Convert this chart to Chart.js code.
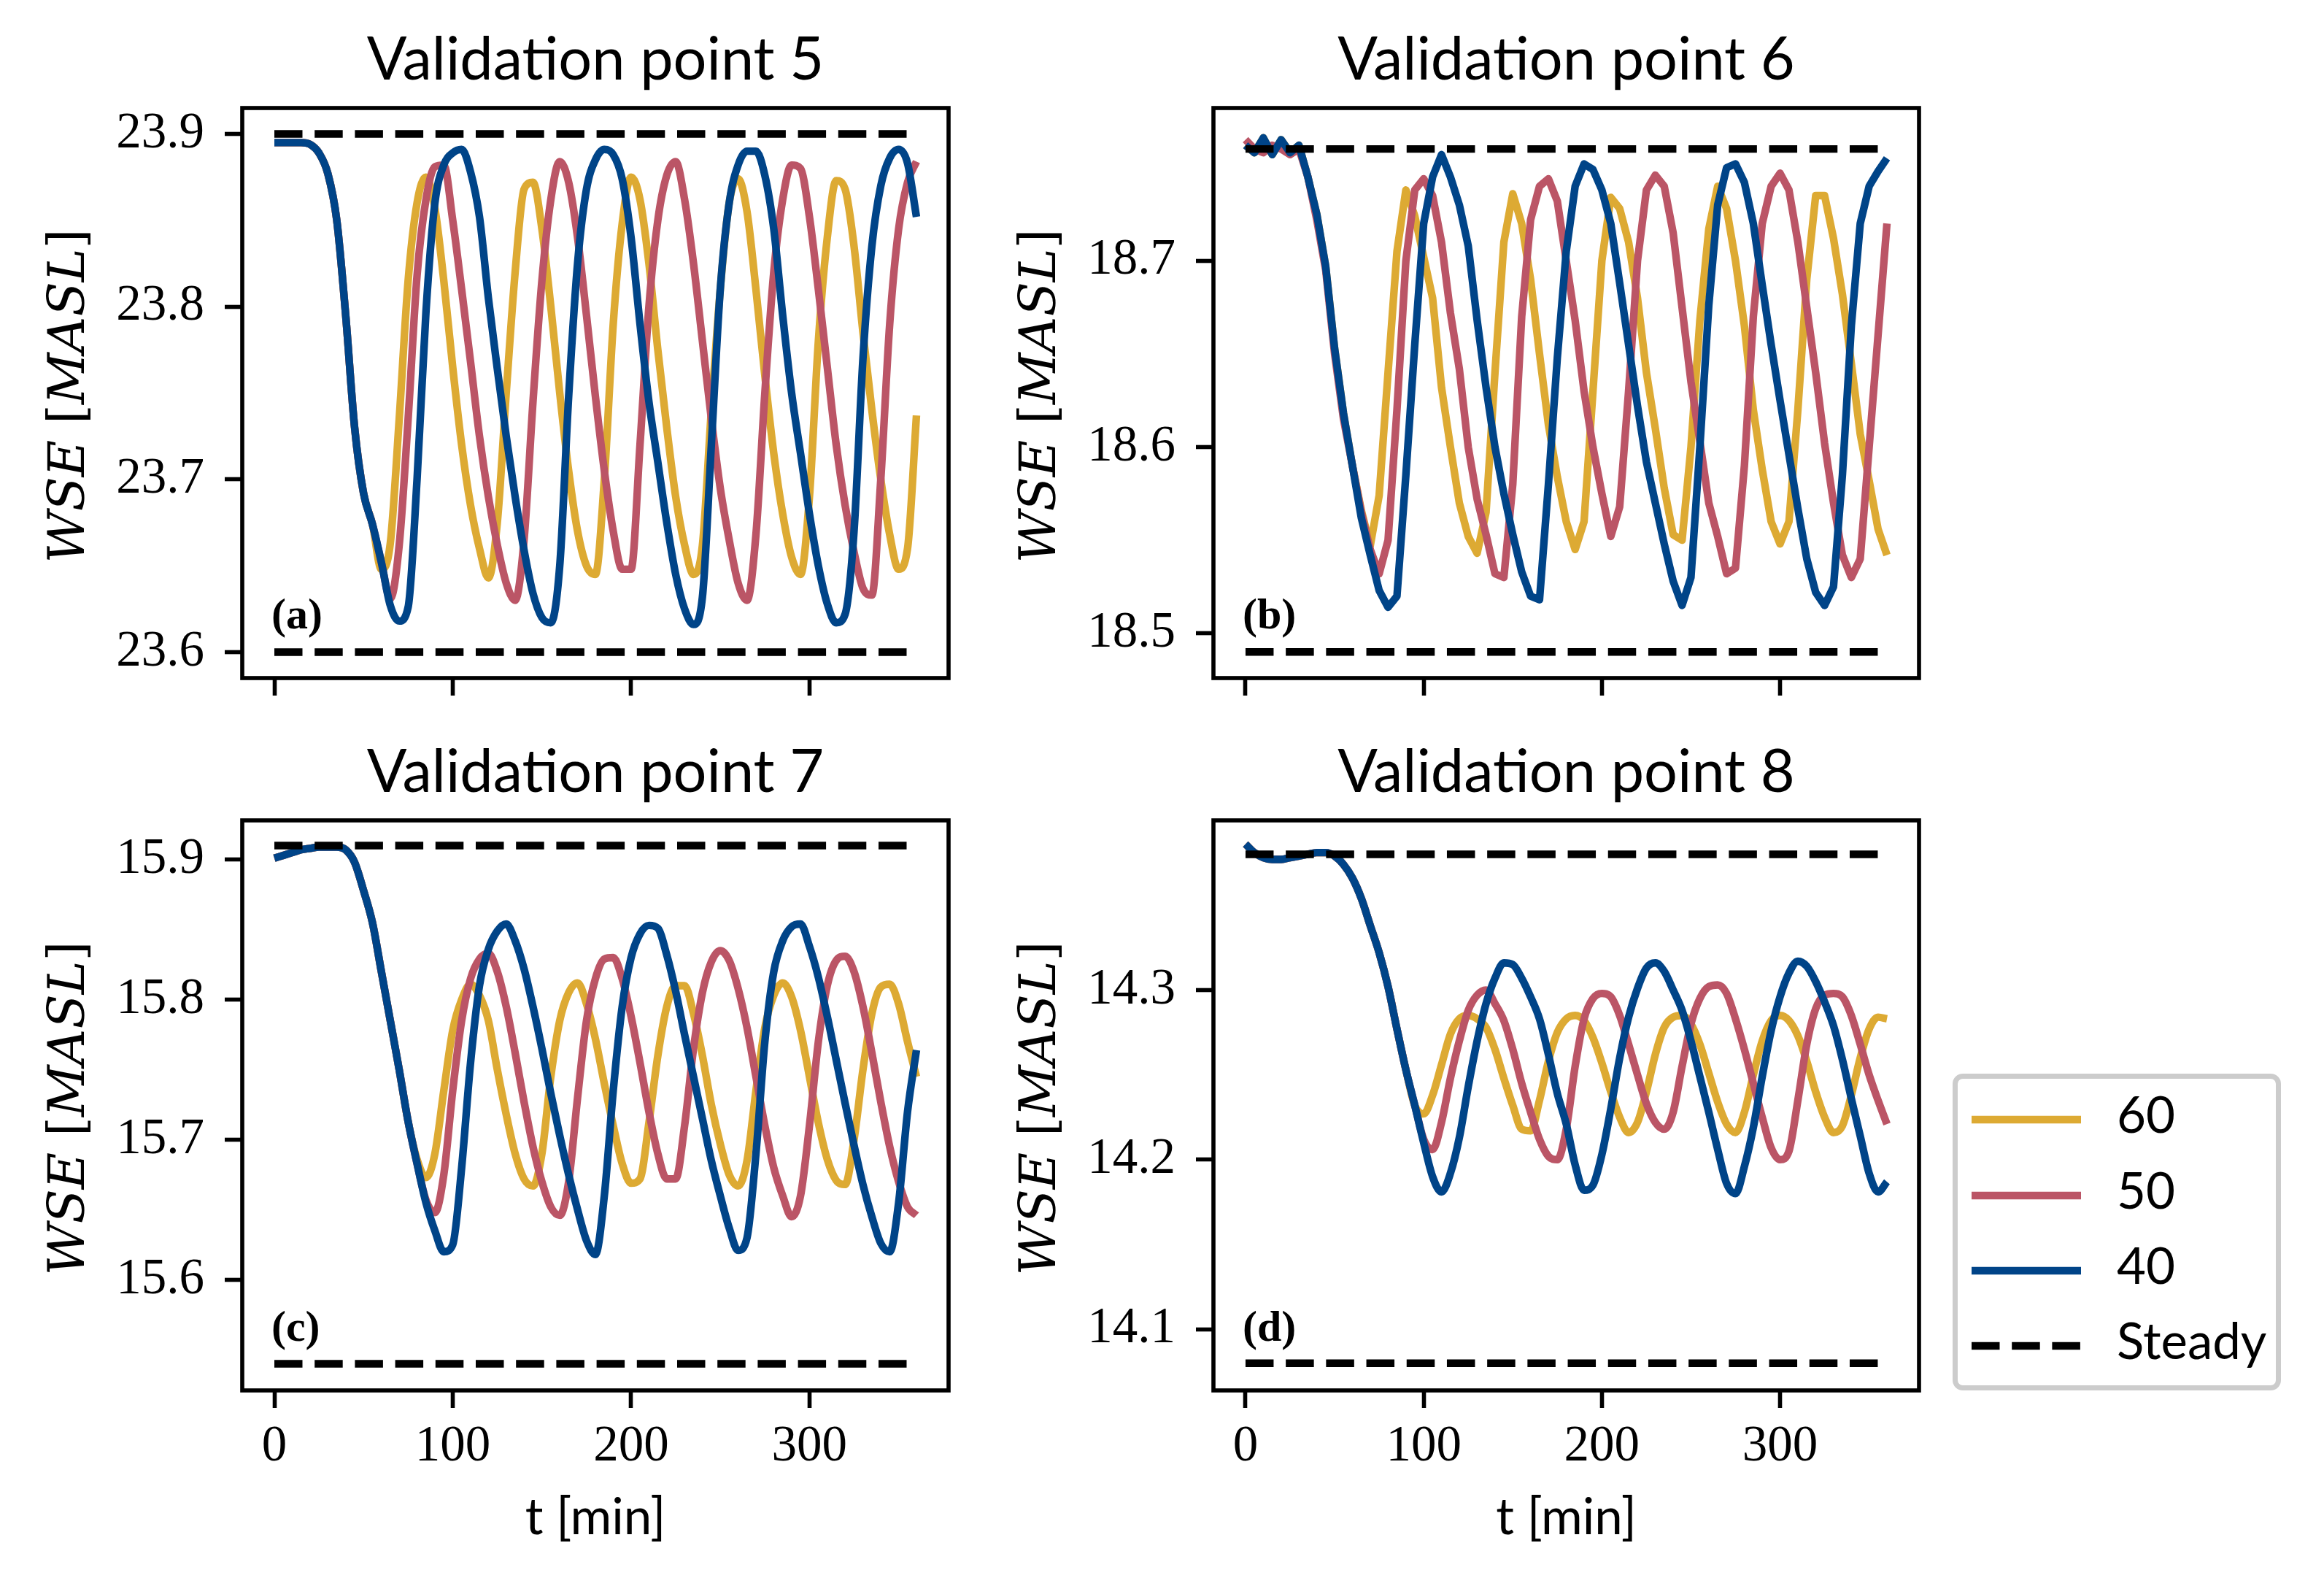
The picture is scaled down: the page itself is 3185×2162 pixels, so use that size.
<!DOCTYPE html>
<html>
<head>
<meta charset="utf-8">
<script src="https://cdn.jsdelivr.net/npm/chart.js@4.4.0/dist/chart.umd.min.js"></script>
<style>
  body { margin: 0; background: #fff; width: 3185px; height: 2162px; position: relative; overflow: hidden; }
  canvas { position: absolute; }
  #legend {
    position: absolute; left: 2676px; top: 1471px; width: 450px; height: 434px;
    box-sizing: border-box; border: 7px solid #cccccc; border-radius: 14px; background: #fff;
  }
  .item { position: absolute; left: 0; height: 100px; width: 436px; }
  .item svg { position: absolute; left: 19px; top: 0; }
  .item span { position: absolute; left: 218px; top: 0; height: 100px; line-height: 100px; font: 69px Lato, sans-serif; color: #000; }
</style>
</head>
<body>
<canvas id="pa" style="left:0px;top:0px"></canvas>
<canvas id="pb" style="left:1331px;top:0px"></canvas>
<canvas id="pc" style="left:0px;top:976px"></canvas>
<canvas id="pd" style="left:1331px;top:976px"></canvas>
<div id="legend"></div>
<script>
// time axis [min]
const T = [0, 5, 10, 15, 20, 25, 30, 35, 40, 45, 50, 55, 60, 65, 70, 75, 80, 85, 90, 95,
  100, 105, 110, 115, 120, 125, 130, 135, 140, 145, 150, 155, 160, 165, 170, 175, 180, 185, 190, 195,
  200, 205, 210, 215, 220, 225, 230, 235, 240, 245, 250, 255, 260, 265, 270, 275, 280, 285, 290, 295,
  300, 305, 310, 315, 320, 325, 330, 335, 340, 345, 350, 355, 360];

// Validation point 5 (the three runs coincide until they split)
const a40 = [23.895, 23.895, 23.895, 23.895, 23.894, 23.889, 23.877, 23.850, 23.795, 23.730, 23.692, 23.674, 23.652, 23.627, 23.618, 23.626, 23.700, 23.797, 23.860, 23.882,
  23.889, 23.891, 23.878, 23.852, 23.805, 23.764, 23.725, 23.690, 23.659, 23.634, 23.620, 23.617, 23.650, 23.748, 23.825, 23.868, 23.885, 23.891, 23.888, 23.874,
  23.840, 23.790, 23.745, 23.710, 23.675, 23.645, 23.625, 23.616, 23.632, 23.720, 23.810, 23.860, 23.882, 23.890, 23.890, 23.876, 23.845, 23.795, 23.750, 23.715,
  23.680, 23.650, 23.628, 23.617, 23.622, 23.670, 23.770, 23.835, 23.870, 23.886, 23.891, 23.883, 23.852];
const a50 = [23.895, 23.895, 23.895, 23.895, 23.894, 23.889, 23.877, 23.850, 23.795, 23.730, 23.692, 23.674, 23.652, 23.631, 23.662, 23.735, 23.818, 23.862, 23.881, 23.882,
  23.850, 23.810, 23.768, 23.725, 23.690, 23.662, 23.640, 23.630, 23.665, 23.745, 23.815, 23.862, 23.884, 23.872, 23.840, 23.795, 23.748, 23.705, 23.670, 23.648,
  23.648, 23.720, 23.800, 23.850, 23.876, 23.884, 23.862, 23.825, 23.780, 23.735, 23.695, 23.665, 23.640, 23.630, 23.668, 23.750, 23.820, 23.862, 23.882, 23.880,
  23.852, 23.810, 23.765, 23.720, 23.685, 23.658, 23.637, 23.633, 23.700, 23.790, 23.845, 23.872, 23.884];
const a60 = [23.895, 23.895, 23.895, 23.895, 23.894, 23.889, 23.877, 23.850, 23.795, 23.730, 23.692, 23.674, 23.648, 23.663, 23.735, 23.815, 23.860, 23.875, 23.857, 23.815,
  23.765, 23.720, 23.685, 23.660, 23.643, 23.675, 23.750, 23.820, 23.868, 23.872, 23.845, 23.800, 23.750, 23.705, 23.670, 23.650, 23.645, 23.700, 23.790, 23.848,
  23.875, 23.862, 23.825, 23.775, 23.730, 23.690, 23.662, 23.645, 23.662, 23.740, 23.810, 23.860, 23.874, 23.855, 23.810, 23.760, 23.715, 23.680, 23.655, 23.645,
  23.690, 23.780, 23.840, 23.873, 23.868, 23.835, 23.785, 23.740, 23.700, 23.668, 23.648, 23.660, 23.737];

// Validation point 6
const b40 = [18.762, 18.758, 18.766, 18.757, 18.765, 18.758, 18.762, 18.745, 18.725, 18.697, 18.653, 18.618, 18.590, 18.562, 18.542, 18.523, 18.514, 18.520, 18.585, 18.655,
  18.720, 18.745, 18.757, 18.745, 18.730, 18.708, 18.668, 18.632, 18.600, 18.575, 18.553, 18.533, 18.520, 18.518, 18.580, 18.648, 18.705, 18.740, 18.752, 18.749,
  18.738, 18.720, 18.688, 18.655, 18.622, 18.592, 18.570, 18.548, 18.528, 18.515, 18.530, 18.600, 18.676, 18.730, 18.750, 18.752, 18.742, 18.720, 18.687, 18.655,
  18.625, 18.596, 18.567, 18.540, 18.522, 18.515, 18.525, 18.585, 18.665, 18.720, 18.740, 18.748, 18.755];
const b50 = [18.765, 18.760, 18.758, 18.762, 18.760, 18.757, 18.760, 18.745, 18.722, 18.695, 18.650, 18.615, 18.590, 18.565, 18.545, 18.532, 18.550, 18.620, 18.700, 18.738,
  18.744, 18.735, 18.710, 18.672, 18.642, 18.600, 18.572, 18.553, 18.532, 18.530, 18.580, 18.670, 18.722, 18.740, 18.744, 18.732, 18.700, 18.668, 18.630, 18.600,
  18.575, 18.552, 18.568, 18.630, 18.700, 18.738, 18.746, 18.740, 18.715, 18.675, 18.635, 18.603, 18.570, 18.552, 18.532, 18.535, 18.590, 18.670, 18.720, 18.740,
  18.747, 18.738, 18.710, 18.675, 18.640, 18.602, 18.570, 18.542, 18.530, 18.540, 18.600, 18.660, 18.720];
const b60 = [18.762, 18.758, 18.766, 18.757, 18.765, 18.758, 18.762, 18.745, 18.725, 18.697, 18.653, 18.618, 18.590, 18.566, 18.547, 18.574, 18.640, 18.705, 18.738, 18.724,
  18.702, 18.680, 18.632, 18.600, 18.570, 18.552, 18.543, 18.565, 18.640, 18.710, 18.736, 18.720, 18.690, 18.650, 18.612, 18.584, 18.560, 18.545, 18.560, 18.630,
  18.700, 18.734, 18.728, 18.710, 18.680, 18.640, 18.610, 18.578, 18.553, 18.550, 18.600, 18.668, 18.717, 18.740, 18.728, 18.700, 18.665, 18.620, 18.588, 18.560,
  18.548, 18.560, 18.620, 18.690, 18.735, 18.735, 18.712, 18.682, 18.645, 18.607, 18.582, 18.556, 18.542];

// Validation point 7
const c40 = [15.901, 15.903, 15.905, 15.907, 15.908, 15.909, 15.909, 15.909, 15.907, 15.898, 15.878, 15.855, 15.820, 15.785, 15.750, 15.713, 15.683, 15.655, 15.635, 15.620,
  15.625, 15.680, 15.755, 15.810, 15.836, 15.849, 15.854, 15.842, 15.822, 15.795, 15.765, 15.733, 15.703, 15.675, 15.650, 15.628, 15.618, 15.660, 15.735, 15.795,
  15.830, 15.847, 15.853, 15.851, 15.832, 15.806, 15.775, 15.745, 15.715, 15.685, 15.660, 15.637, 15.621, 15.630, 15.690, 15.770, 15.820, 15.842, 15.852, 15.854,
  15.838, 15.816, 15.788, 15.757, 15.726, 15.696, 15.668, 15.645, 15.626, 15.620, 15.655, 15.720, 15.764];
const c50 = [15.901, 15.903, 15.905, 15.907, 15.908, 15.909, 15.909, 15.909, 15.907, 15.898, 15.878, 15.855, 15.820, 15.785, 15.750, 15.713, 15.683, 15.657, 15.648, 15.675,
  15.735, 15.785, 15.815, 15.829, 15.833, 15.820, 15.795, 15.762, 15.727, 15.695, 15.670, 15.652, 15.646, 15.670, 15.730, 15.785, 15.815, 15.829, 15.830, 15.815,
  15.788, 15.755, 15.720, 15.690, 15.672, 15.672, 15.710, 15.765, 15.805, 15.827, 15.835, 15.828, 15.808, 15.780, 15.745, 15.710, 15.680, 15.660, 15.645, 15.660,
  15.710, 15.770, 15.810, 15.828, 15.831, 15.820, 15.795, 15.762, 15.727, 15.695, 15.670, 15.652, 15.646];
const c60 = [15.901, 15.903, 15.905, 15.907, 15.908, 15.909, 15.909, 15.909, 15.907, 15.898, 15.878, 15.855, 15.820, 15.785, 15.750, 15.713, 15.686, 15.673, 15.690, 15.735,
  15.778, 15.800, 15.811, 15.803, 15.785, 15.750, 15.718, 15.690, 15.672, 15.667, 15.690, 15.745, 15.785, 15.805, 15.812, 15.797, 15.772, 15.740, 15.710, 15.683,
  15.669, 15.672, 15.712, 15.760, 15.795, 15.810, 15.810, 15.790, 15.760, 15.725, 15.697, 15.675, 15.667, 15.685, 15.735, 15.780, 15.803, 15.812, 15.802, 15.778,
  15.745, 15.712, 15.686, 15.671, 15.668, 15.700, 15.750, 15.790, 15.809, 15.811, 15.797, 15.770, 15.745];

// Validation point 8
const d40 = [14.386, 14.381, 14.378, 14.377, 14.377, 14.378, 14.379, 14.380, 14.381, 14.381, 14.379, 14.374, 14.366, 14.354, 14.338, 14.322, 14.302, 14.277, 14.253, 14.232,
  14.210, 14.190, 14.181, 14.192, 14.213, 14.243, 14.270, 14.292, 14.307, 14.316, 14.315, 14.307, 14.296, 14.283, 14.262, 14.239, 14.221, 14.197, 14.182, 14.185,
  14.203, 14.230, 14.260, 14.284, 14.301, 14.313, 14.316, 14.311, 14.300, 14.288, 14.270, 14.249, 14.228, 14.206, 14.186, 14.180, 14.196, 14.219, 14.249, 14.276,
  14.296, 14.310, 14.317, 14.314, 14.305, 14.293, 14.279, 14.259, 14.236, 14.214, 14.192, 14.181, 14.187];
const d50 = [14.386, 14.381, 14.378, 14.377, 14.377, 14.378, 14.379, 14.380, 14.381, 14.381, 14.379, 14.374, 14.366, 14.354, 14.338, 14.322, 14.302, 14.277, 14.253, 14.232,
  14.212, 14.206, 14.222, 14.248, 14.270, 14.288, 14.297, 14.300, 14.292, 14.282, 14.265, 14.245, 14.228, 14.212, 14.202, 14.200, 14.218, 14.255, 14.283, 14.295,
  14.298, 14.296, 14.285, 14.268, 14.250, 14.233, 14.222, 14.218, 14.228, 14.255, 14.280, 14.295, 14.302, 14.303, 14.298, 14.283, 14.265, 14.245, 14.225, 14.207,
  14.200, 14.205, 14.235, 14.268, 14.289, 14.297, 14.298, 14.296, 14.285, 14.268, 14.250, 14.235, 14.221];
const d60 = [14.386, 14.381, 14.378, 14.377, 14.377, 14.378, 14.379, 14.380, 14.381, 14.381, 14.379, 14.374, 14.366, 14.354, 14.338, 14.322, 14.302, 14.277, 14.253, 14.232,
  14.227, 14.238, 14.256, 14.274, 14.283, 14.285, 14.283, 14.278, 14.265, 14.248, 14.232, 14.218, 14.217, 14.235, 14.258, 14.275, 14.283, 14.285, 14.282, 14.272,
  14.257, 14.240, 14.225, 14.216, 14.222, 14.240, 14.262, 14.278, 14.284, 14.285, 14.280, 14.268, 14.251, 14.234, 14.221, 14.216, 14.228, 14.250, 14.270, 14.282,
  14.285, 14.282, 14.273, 14.258, 14.240, 14.225, 14.216, 14.220, 14.238, 14.260, 14.277, 14.284, 14.283];

// steady-state levels [low, high]
const steadyA = [23.60, 23.90];
const steadyB = [18.49, 18.76];
const steadyC = [15.54, 15.91];
const steadyD = [14.08, 14.38];

const xTicks = [0, 100, 200, 300];
const yTicksA = [23.6, 23.7, 23.8, 23.9];
const yTicksB = [18.5, 18.6, 18.7];
const yTicksC = [15.6, 15.7, 15.8, 15.9];
const yTicksD = [14.1, 14.2, 14.3];

const legendLabels = ['60', '50', '40', 'Steady'];
const colors = { '60': '#DDAA33', '50': '#BB5566', '40': '#004488', 'Steady': '#000000' };

const LW = 10.4;
const DASH = [38.5, 16.7];

const decor = {
  id: 'decor',
  afterDraw(chart, args, o) {
    const ctx = chart.ctx;
    const a = chart.chartArea;
    const cx = (a.left + a.right) / 2;
    ctx.save();
    ctx.strokeStyle = '#000';
    ctx.lineWidth = 5.6;
    ctx.strokeRect(a.left, a.top, a.right - a.left, a.bottom - a.top);
    ctx.fillStyle = '#000';
    ctx.textBaseline = 'alphabetic';
    ctx.textAlign = 'center';
    ctx.font = '81px Lato';
    ctx.fillText(o.title, cx, a.top - 39);
    if (o.xlabel) {
      ctx.font = '69px Lato';
      ctx.fillText(o.xlabel, cx, a.bottom + 197);
    }
    ctx.textAlign = 'left';
    ctx.font = 'bold 60px "Liberation Serif"';
    ctx.fillText(o.tag, a.left + 40, a.bottom - 68);

    // y label, math italic with upright brackets
    const parts = [['WSE', 'italic'], [' [', 'normal'], ['MASL', 'italic'], [']', 'normal']];
    ctx.translate(a.left - 217, (a.top + a.bottom) / 2 + 4);
    ctx.rotate(-Math.PI / 2);
    let total = 0;
    parts.forEach(p => { ctx.font = p[1] + ' 69px "DejaVu Serif"'; total += ctx.measureText(p[0]).width; });
    let x = -total / 2;
    parts.forEach(p => {
      ctx.font = p[1] + ' 69px "DejaVu Serif"';
      ctx.fillText(p[0], x, 0);
      x += ctx.measureText(p[0]).width;
    });
    ctx.restore();
  }
};

function pts(values) {
  return T.map((t, i) => ({ x: t, y: values[i] }));
}

function steadyLine(v) {
  return {
    data: [{ x: T[0], y: v }, { x: T[T.length - 1], y: v }],
    borderColor: '#000', borderWidth: LW, borderDash: DASH, borderCapStyle: 'butt',
    pointRadius: 0, tension: 0
  };
}

function seriesLine(values, color, smooth) {
  const ds = {
    data: pts(values), borderColor: color, borderWidth: LW,
    pointRadius: 0, spanGaps: false, borderJoinStyle: 'round', borderCapStyle: 'butt'
  };
  if (smooth) ds.cubicInterpolationMode = 'monotone';
  else ds.tension = 0;
  return ds;
}

function makePanel(id, p) {
  const canvas = document.getElementById(id);
  canvas.width = p.w;
  canvas.height = p.h;
  const tickFont = { family: '"Liberation Serif"', size: 69 };
  new Chart(canvas, {
    type: 'line',
    data: {
      datasets: [
        steadyLine(p.steady[1]),
        steadyLine(p.steady[0]),
        seriesLine(p.s40, colors['40'], p.smooth),
        seriesLine(p.s50, colors['50'], p.smooth),
        seriesLine(p.s60, colors['60'], p.smooth)
      ]
    },
    options: {
      responsive: false,
      animation: false,
      devicePixelRatio: 1,
      layout: { padding: { left: 0, top: 148, right: p.w - 1299 - (id === 'pa' || id === 'pc' ? 1 : 0), bottom: 0 } },
      scales: {
        x: {
          type: 'linear', min: -18, max: 378,
          afterBuildTicks: s => { s.ticks = xTicks.map(v => ({ value: v })); },
          afterFit: s => { s.height = p.h - 929; s.paddingLeft = 0; s.paddingRight = 0; },
          ticks: { display: p.bottom, color: '#000', padding: 12, maxRotation: 0, font: tickFont, callback: v => String(v) },
          grid: { drawOnChartArea: false, tickLength: 24, tickWidth: 5.6, tickColor: '#000' },
          border: { display: false }
        },
        y: {
          type: 'linear', min: p.ylim[0], max: p.ylim[1],
          afterBuildTicks: s => { s.ticks = p.yticks.map(v => ({ value: v })); },
          afterFit: s => { s.width = 332; s.paddingTop = 0; s.paddingBottom = 0; },
          ticks: { color: '#000', padding: 28, font: tickFont, callback: v => v.toFixed(1) },
          grid: { drawOnChartArea: false, tickLength: 24, tickWidth: 5.6, tickColor: '#000' },
          border: { display: false }
        }
      },
      plugins: {
        legend: { display: false },
        tooltip: { enabled: false },
        decor: { title: p.title, tag: p.tag, xlabel: p.bottom ? 't [min]' : '' }
      }
    },
    plugins: [decor]
  });
}

makePanel('pa', { w: 1331, h: 976, bottom: false, title: 'Validation point 5', tag: '(a)',
  s40: a40, s50: a50, s60: a60, steady: steadyA, ylim: [23.585, 23.915], yticks: yTicksA, smooth: true });
makePanel('pb', { w: 1329, h: 976, bottom: false, title: 'Validation point 6', tag: '(b)',
  s40: b40, s50: b50, s60: b60, steady: steadyB, ylim: [18.476, 18.782], yticks: yTicksB, smooth: false });
makePanel('pc', { w: 1331, h: 1186, bottom: true, title: 'Validation point 7', tag: '(c)',
  s40: c40, s50: c50, s60: c60, steady: steadyC, ylim: [15.521, 15.928], yticks: yTicksC, smooth: true });
makePanel('pd', { w: 1329, h: 1186, bottom: true, title: 'Validation point 8', tag: '(d)',
  s40: d40, s50: d50, s60: d60, steady: steadyD, ylim: [14.064, 14.400], yticks: yTicksD, smooth: true });

// legend
const legend = document.getElementById('legend');
const rowTops = [6, 109.5, 212.5, 316];
legendLabels.forEach((lab, i) => {
  const row = document.createElement('div');
  row.className = 'item';
  row.style.top = rowTops[i] + 'px';
  const dash = lab === 'Steady' ? ' stroke-dasharray="' + DASH.join(' ') + '"' : '';
  row.innerHTML = '<svg width="150" height="100"><line x1="0" y1="50" x2="150" y2="50" stroke="' +
    colors[lab] + '" stroke-width="' + LW + '"' + dash + '/></svg><span>' + lab + '</span>';
  legend.appendChild(row);
});
</script>
</body>
</html>
